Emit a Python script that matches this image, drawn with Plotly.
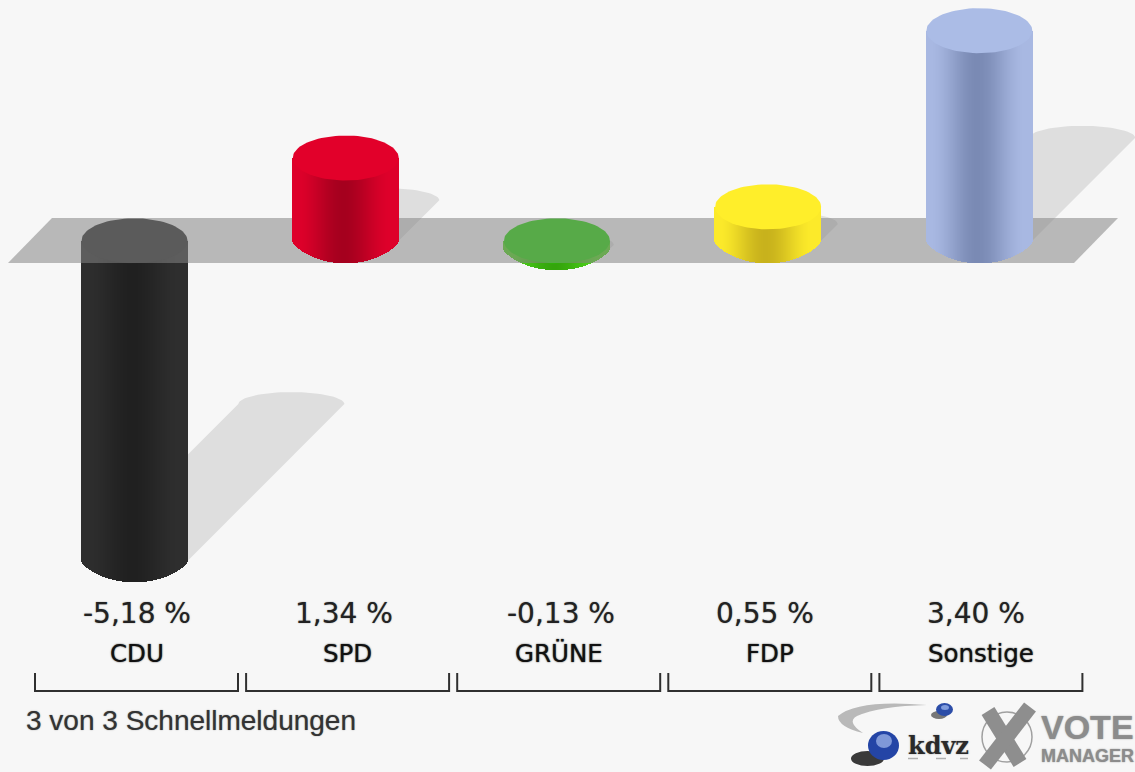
import numpy as np
import plotly.graph_objects as go

# ---- data ----
parties = ["CDU", "SPD", "GRÜNE", "FDP", "Sonstige"]
changes = [-5.18, 1.34, -0.13, 0.55, 3.40]
note_text = "3 von 3 Schnellmeldungen"

# ---- styles ----
edge_colors = [(46, 46, 46), (222, 0, 42), (80, 214, 28), (252, 234, 42), (168, 184, 226)]
core_colors = [(32, 32, 32), (165, 0, 30), (52, 165, 12), (200, 178, 28), (122, 138, 180)]
cap_colors = ["#2a2a2a", "#e2002a", "#21d800", "#ffee2a", "#abbce6"]

W, H = 1135, 772
PX_X = 211.2      # pixels per category
PX_Y = 61.8       # pixels per percentage point
X0_PX, Y0_PX = 134.5, 240.8
RX = 53.0 / PX_X
RY = 22.5 / PX_Y
xrange_ = [-X0_PX / PX_X, (W - X0_PX) / PX_X]
yrange_ = [(Y0_PX - H) / PX_Y, Y0_PX / PX_Y]


def xd(p):
    return (p - X0_PX) / PX_X


def yd(p):
    return (Y0_PX - p) / PX_Y


def pp(x, y):
    return f"{x / W:.5f},{1 - y / H:.5f}"


def mix(a, b, t):
    return "rgb(" + ",".join(str(int(round(a[k] + (b[k] - a[k]) * t))) for k in range(3)) + ")"


fig = go.Figure()

# shadows (bottom layer)
theta = np.linspace(0, np.pi, 40)
for i, v in enumerate(changes):
    h = abs(v) * PX_Y
    off = 0.49 * h
    ox, oy = off / PX_X, off / PX_Y
    base = min(v, 0)
    arc_x = i + ox + RX * np.cos(theta)
    arc_y = base + oy + (12 / PX_Y) * np.sin(theta)
    xs = [i + RX] + list(arc_x) + [i - RX, i + RX]
    ys = [base] + list(arc_y) + [base, base]
    fig.add_trace(go.Scatter(x=xs, y=ys, fill="toself", mode="lines", line=dict(width=0),
                             fillcolor="#dedede", hoverinfo="skip", xaxis="x", yaxis="y"))


def cylinder(i, v, axis_suffix):
    n = 106
    sx = (np.arange(n) + 0.5) / n * 2 - 1
    xpos = i + sx * RX
    bottom = np.clip(1 - sx ** 2, 0, 1) ** 0.72 * RY
    colors = []
    for u in sx:
        t = min(abs(u + 0.03) / 0.9, 1)
        t = t * t * (3 - 2 * t)
        colors.append(mix(core_colors[i], edge_colors[i], t))
    if v >= 0:
        base = -bottom
        heights = v + bottom
    else:
        base = np.zeros(n)
        heights = v - bottom * 0.95
    fig.add_trace(go.Bar(x=xpos, y=heights, base=base, width=2 * RX / n * 1.6,
                         marker=dict(color=colors, line=dict(width=0)),
                         hoverinfo="skip", xaxis="x" + axis_suffix, yaxis="y" + axis_suffix))


def cap(i, v, axis_suffix):
    t = np.linspace(0, 2 * np.pi, 90)
    level = v if v >= 0 else 0
    fig.add_trace(go.Scatter(x=i + RX * np.cos(t), y=level + RY * np.sin(t), fill="toself",
                             mode="lines", line=dict(width=0), fillcolor=cap_colors[i],
                             hoverinfo="skip", xaxis="x" + axis_suffix, yaxis="y" + axis_suffix))


# negative columns lie under the translucent plane
for i, v in enumerate(changes):
    if v < 0:
        cylinder(i, v, "2")
for i, v in enumerate(changes):
    if v < 0:
        cap(i, v, "2")

plane_px = [(8, 263), (52, 218), (1118, 218), (1074, 263), (8, 263)]
fig.add_trace(go.Scatter(x=[xd(p[0]) for p in plane_px], y=[yd(p[1]) for p in plane_px],
                         fill="toself", mode="lines", line=dict(width=0),
                         fillcolor="rgba(133,133,133,0.546)", hoverinfo="skip", xaxis="x2", yaxis="y2"))

# positive columns stand on the plane
for i, v in enumerate(changes):
    if v >= 0:
        cylinder(i, v, "3")
for i, v in enumerate(changes):
    if v >= 0:
        cap(i, v, "3")

# brackets under each category
shapes = []
for i in range(len(parties)):
    cx = 136.5 + i * 211.1
    xs = [cx - 101.5, cx + 101.5]
    path = f"M {pp(xs[0], 673)} L {pp(xs[0], 691)} L {pp(xs[1], 691)} L {pp(xs[1], 673)}"
    shapes.append(dict(type="path", xref="paper", yref="paper", path=path,
                       line=dict(color="#303030", width=2)))

annotations = []
shadow = "0 0 1.2px rgba(60,60,60,0.7)"
value_nudge = [0, -4, 2, -5, -5]
for i, (name, v) in enumerate(zip(parties, changes)):
    cx = 136.5 + i * 211.1
    label = f"{v:.2f}".replace(".", ",") + " %"
    annotations.append(dict(x=(cx + value_nudge[i]) / W, y=1 - 613 / H, xref="paper", yref="paper", text=label,
                            showarrow=False, xanchor="center", yanchor="middle",
                            font=dict(family="DejaVu Sans", size=28, color="#222222", shadow=shadow)))
    annotations.append(dict(x=cx / W, y=1 - 653 / H, xref="paper", yref="paper", text=name,
                            showarrow=False, xanchor="center", yanchor="middle",
                            font=dict(family="DejaVu Sans", size=24.5, color="#111111",
                                      shadow="0 0 1.5px rgba(20,20,20,0.95)")))
annotations.append(dict(x=24 / W, y=1 - 720 / H, xref="paper", yref="paper", text=note_text,
                        showarrow=False, xanchor="left", yanchor="middle",
                        font=dict(family="Liberation Sans", size=28, color="#333333", shadow=shadow)))

# logos
gshadow = "0 0 1.5px rgba(120,120,120,0.8)"
annotations.append(dict(x=906 / W, y=1 - 745 / H, xref="paper", yref="paper", text="<b>kdvz</b>",
                        showarrow=False, xanchor="left", yanchor="middle",
                        font=dict(family="DejaVu Serif", size=24, color="#2a2a2a", shadow=gshadow)))
annotations.append(dict(x=1039 / W, y=1 - 737 / H, xref="paper", yref="paper",
                        text="<span style='font-size:34px'><b>VOTE</b></span><br><b>MANAGER</b>",
                        showarrow=False, xanchor="left", yanchor="middle", align="left",
                        font=dict(family="Liberation Sans", size=18, color="#8c8c8c", shadow=gshadow)))


def ell(x0, y0, x1, y1, color, line=None):
    return dict(type="circle", xref="paper", yref="paper", x0=x0 / W, x1=x1 / W, y0=1 - y0 / H, y1=1 - y1 / H,
                fillcolor=color, line=line or dict(width=0))


swoosh = (f"M {pp(927, 705)} Q {pp(858, 699)} {pp(838, 716)} Q {pp(838, 727)} {pp(863, 733)} "
          f"Q {pp(846, 722)} {pp(857, 716)} Q {pp(880, 706)} {pp(927, 705)} Z")
shapes.append(dict(type="path", xref="paper", yref="paper", path=swoosh, fillcolor="#b9b9b9", line=dict(width=0)))
shapes.append(ell(931, 711, 947, 719, "#777777"))
shapes.append(ell(936, 703, 953, 716, "#2c4da8"))
shapes.append(ell(941, 705, 949, 710, "#7f9bdc"))
shapes.append(ell(851, 751, 884, 766, "#3a3a3a"))
shapes.append(ell(868, 731, 899, 760, "#2445a6"))
shapes.append(ell(876, 734, 892, 748, "#7f98d8"))
shapes.append(ell(982, 712, 1032, 762, "rgba(0,0,0,0)", dict(color="#a0a0a0", width=1.5)))
shapes.append(dict(type="line", xref="paper", yref="paper", x0=988 / W, y0=1 - 711 / H, x1=1020 / W, y1=1 - 763 / H,
                   line=dict(color="#8e8e8e", width=15)))
shapes.append(dict(type="line", xref="paper", yref="paper", x0=1030 / W, y0=1 - 707 / H, x1=985 / W, y1=1 - 765 / H,
                   line=dict(color="#8e8e8e", width=15)))
for a, b in [(908, 918), (936, 946), (960, 968)]:
    shapes.append(dict(type="line", xref="paper", yref="paper", x0=a / W, y0=1 - 758.5 / H, x1=b / W, y1=1 - 758.5 / H,
                       line=dict(color="#b0b0b0", width=1.5)))

ax = dict(range=xrange_, visible=False, fixedrange=True, domain=[0, 1])
ay = dict(range=yrange_, visible=False, fixedrange=True, domain=[0, 1])
fig.update_layout(
    width=W, height=H, margin=dict(l=0, r=0, t=0, b=0), autosize=False,
    paper_bgcolor="#f7f7f7", plot_bgcolor="rgba(0,0,0,0)", showlegend=False, barmode="overlay",
    bargap=0, xaxis=ax, yaxis=ay,
    xaxis2=dict(ax, overlaying="x"), yaxis2=dict(ay, overlaying="y"),
    xaxis3=dict(ax, overlaying="x"), yaxis3=dict(ay, overlaying="y"),
    shapes=shapes, annotations=annotations,
)

fig.write_html("out.html", post_script="document.body.style.margin='0';document.body.style.overflow='hidden';",
               config=dict(displayModeBar=False))
